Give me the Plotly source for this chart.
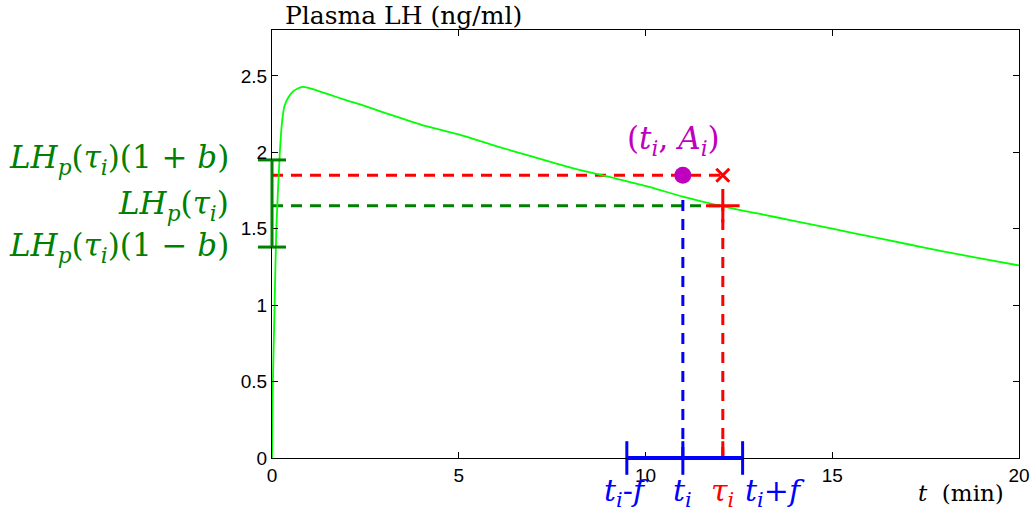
import plotly.graph_objects as go

# LH curve
t_curve = [0, 0.018, 0.07, 0.116, 0.21, 0.27, 0.33, 0.44, 0.57, 0.79, 1.0, 1.5, 2.0, 2.36, 3, 4, 5, 6, 7, 8, 9, 10,
           11, 12, 13, 14, 15, 16, 17, 18, 19, 20]
lh_curve = [0, 0.42, 1.0, 1.5, 2.0, 2.2, 2.3, 2.36, 2.40, 2.427, 2.42, 2.38, 2.34, 2.313, 2.26, 2.18, 2.117, 2.04,
            1.97, 1.90, 1.84, 1.78, 1.71, 1.65, 1.60, 1.55, 1.50, 1.45, 1.40, 1.35, 1.305, 1.26]

t_i = 11.0
tau_i = 12.07
A_i = 1.85
LH_tau = 1.65
LH_ti = 1.71
LH_hi = 1.95
LH_lo = 1.38
t_lo = 9.5
t_hi = 12.6
t_hi_label = 13.47

x_ticks = [0, 5, 10, 15, 20]
y_ticks = [0, 0.5, 1, 1.5, 2, 2.5]
y_tick_text = ["0", "0.5", "1", "1.5", "2", "2.5"]

RED = "#FF0000"
BLUE = "#0000FF"
DGREEN = "#008000"
LIME = "#00FF00"
MAG = "#BF00BF"
SERIF = "DejaVu Serif"
SANS = "Liberation Sans"

fig = go.Figure()

dash = "11px,8px"
# dashed guide lines
fig.add_trace(go.Scatter(x=[0, tau_i], y=[A_i, A_i], mode="lines", line=dict(color=RED, width=3, dash=dash)))
fig.add_trace(go.Scatter(x=[0, tau_i], y=[LH_tau, LH_tau], mode="lines", line=dict(color=DGREEN, width=3, dash=dash)))
fig.add_trace(go.Scatter(x=[t_i, t_i], y=[0, LH_ti], mode="lines", line=dict(color=BLUE, width=3, dash=dash)))
fig.add_trace(go.Scatter(x=[tau_i, tau_i], y=[0, LH_tau], mode="lines", line=dict(color=RED, width=3, dash=dash)))

# LH curve
fig.add_trace(go.Scatter(x=t_curve, y=lh_curve, mode="lines",
                         line=dict(color=LIME, width=1.8, shape="spline", smoothing=0.6)))

# blue interval on time axis: bar on the axis line and tick marks; green interval on LH axis
shapes = [
    dict(type="line", xref="x", yref="paper", x0=t_lo, x1=t_hi, y0=0, y1=0,
         line=dict(color=BLUE, width=4), layer="above"),
    dict(type="line", xref="paper", yref="y", x0=0, x1=0, y0=LH_lo, y1=LH_hi,
         line=dict(color=DGREEN, width=3), layer="above"),
]
fig.add_trace(go.Scatter(x=[t_lo, t_i, t_hi], y=[0, 0, 0], mode="markers", cliponaxis=False,
                         marker=dict(symbol="line-ns-open", size=24, color=BLUE, line=dict(color=BLUE, width=3))))

# red markers
fig.add_trace(go.Scatter(x=[tau_i, tau_i], y=[LH_tau, 0], mode="markers",
                         marker=dict(symbol="cross-thin-open", size=24, color=RED, line=dict(color=RED, width=3))))
fig.add_trace(go.Scatter(x=[tau_i], y=[A_i], mode="markers",
                         marker=dict(symbol="x-thin-open", size=13, color=RED, line=dict(color=RED, width=3))))
# observed pulse
fig.add_trace(go.Scatter(x=[t_i], y=[A_i], mode="markers", marker=dict(symbol="circle", size=17, color=MAG)))

# green interval caps on LH axis
fig.add_trace(go.Scatter(x=[0, 0], y=[LH_hi, LH_lo], mode="markers", cliponaxis=False,
                         marker=dict(symbol="line-ew-open", size=20, color=DGREEN, line=dict(color=DGREEN, width=3))))

lab_font = dict(family=SERIF, size=31)
bot_font = dict(family=SERIF, size=30)
bottom_y = -0.081
annotations = [
    dict(text="Plasma LH (ng/ml)", xref="paper", yref="paper", x=0.015, y=1.035, xanchor="left", yanchor="middle",
         showarrow=False, font=dict(family=SERIF, size=25, color="black")),
    dict(text="<i>t</i>  (min)", xref="paper", yref="paper", x=0.923, y=-0.082, xanchor="center", yanchor="middle",
         showarrow=False, font=dict(family=SERIF, size=23, color="black")),
    dict(text="(<i>t<sub>i</sub></i>, <i>A<sub>i</sub></i>)", x=10.74, y=2.08, xanchor="center", yanchor="middle",
         showarrow=False, font=dict(lab_font, color=MAG)),
    dict(text="<i>LH<sub>p</sub></i>(<i>τ<sub>i</sub></i>)(1 + <i>b</i>)", xref="paper", x=-0.055, y=LH_hi,
         xanchor="right", yanchor="middle", showarrow=False, font=dict(lab_font, color=DGREEN)),
    dict(text="<i>LH<sub>p</sub></i>(<i>τ<sub>i</sub></i>)", xref="paper", x=-0.055, y=LH_tau,
         xanchor="right", yanchor="middle", showarrow=False, font=dict(lab_font, color=DGREEN)),
    dict(text="<i>LH<sub>p</sub></i>(<i>τ<sub>i</sub></i>)(1 − <i>b</i>)", xref="paper", x=-0.055, y=LH_lo,
         xanchor="right", yanchor="middle", showarrow=False, font=dict(lab_font, color=DGREEN)),
    dict(text="<i>t<sub>i</sub></i>-<i>f</i>", x=t_lo, yref="paper", y=bottom_y, xanchor="center", yanchor="middle",
         showarrow=False, font=dict(bot_font, color=BLUE)),
    dict(text="<i>t<sub>i</sub></i>", x=t_i, yref="paper", y=bottom_y, xanchor="center", yanchor="middle",
         showarrow=False, font=dict(bot_font, color=BLUE)),
    dict(text="<i>τ<sub>i</sub></i>", x=tau_i, yref="paper", y=bottom_y, xanchor="center", yanchor="middle",
         showarrow=False, font=dict(bot_font, color=RED)),
    dict(text="<i>t<sub>i</sub></i>+<i>f</i>", x=t_hi_label, yref="paper", y=bottom_y, xanchor="center",
         yanchor="middle", showarrow=False, font=dict(bot_font, color=BLUE)),
]

fig.update_layout(
    width=1036, height=514,
    margin=dict(l=272, r=17, t=30, b=56, autoexpand=False),
    paper_bgcolor="white", plot_bgcolor="white",
    showlegend=False,
    annotations=annotations,
    shapes=shapes,
    font=dict(family=SANS, size=19, color="black"),
)
fig.update_xaxes(range=[0, 20], tickvals=x_ticks, ticks="inside", ticklen=6, tickcolor="black", automargin=False,
                 showgrid=False, zeroline=False, showline=True, linecolor="black", linewidth=1, mirror="ticks",
                 tickfont=dict(family=SANS, size=19))
fig.update_yaxes(range=[0, 2.8], tickvals=y_ticks, ticktext=y_tick_text, ticks="inside", ticklen=6,
                 automargin=False, tickcolor="black", showgrid=False, zeroline=False, showline=True,
                 linecolor="black", linewidth=1, mirror="ticks", tickfont=dict(family=SANS, size=19))

fig.write_html("out.html", config={"displayModeBar": False},
               post_script="document.body.style.margin='0';")
